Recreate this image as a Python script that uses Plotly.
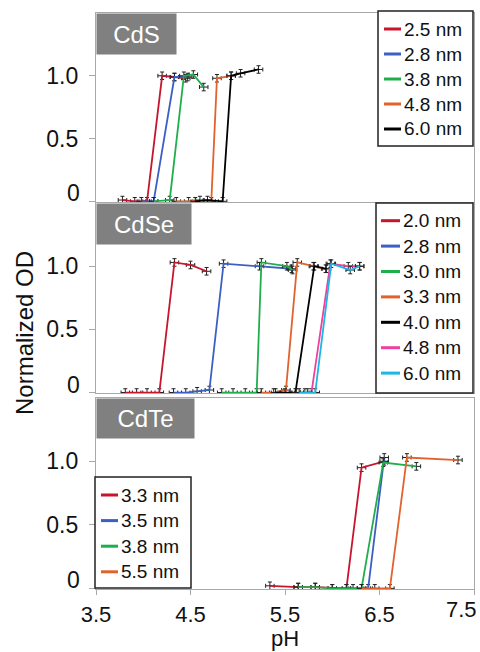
import plotly.graph_objects as go
from plotly.subplots import make_subplots

# ---------------- data ----------------
ph_ticks = [3.5, 4.5, 5.5, 6.5, 7.5]
ph_ticktext = ["3.5", "4.5", "5.5", "6.5", "7.5"]
od_ticks = [0, 0.5, 1.0]
od_ticktext = ["", "0.5", "1.0"]

panel_names = ["CdS", "CdSe", "CdTe"]

cds_labels = ["2.5 nm", "2.8 nm", "3.8 nm", "4.8 nm", "6.0 nm"]
cds_colors = ["#c8152e", "#3b5fc4", "#1fae4e", "#e2622c", "#000000"]
cds_ph = [
    [3.78, 3.91, 4.04, 4.20, 4.33, 4.45],
    [3.98, 4.11, 4.33, 4.47],
    [4.11, 4.28, 4.43, 4.53, 4.64],
    [4.35, 4.48, 4.60, 4.72, 4.78, 4.93],
    [4.55, 4.68, 4.84, 4.93, 5.03, 5.22],
]
cds_od = [
    [0.01, 0.0, 0.0, 1.0, 0.99, 0.98],
    [0.0, 0.0, 0.99, 0.99],
    [0.0, 0.01, 1.0, 1.01, 0.91],
    [0.0, 0.0, 0.01, 0.0, 0.98, 1.0],
    [0.0, 0.01, 0.0, 1.0, 1.02, 1.05],
]

cdse_labels = ["2.0 nm", "2.8 nm", "3.0 nm", "3.3 nm", "4.0 nm", "4.8 nm", "6.0 nm"]
cdse_colors = ["#c8152e", "#3b5fc4", "#1fae4e", "#e2622c", "#000000", "#f0409a", "#1ab6e6"]
cdse_ph = [
    [3.81, 3.93, 4.04, 4.17, 4.33, 4.50, 4.67],
    [4.32, 4.45, 4.57, 4.70, 4.85, 5.23, 5.57],
    [4.83, 4.95, 5.08, 5.20, 5.25, 5.52, 5.58],
    [5.25, 5.38, 5.51, 5.63, 5.80, 5.93],
    [5.40, 5.50, 5.61, 5.81, 5.94],
    [5.62, 5.71, 5.78, 5.98, 6.17, 6.29],
    [5.65, 5.74, 5.82, 5.99, 6.19, 6.29],
]
cdse_od = [
    [0.0, 0.0, 0.0, 0.0, 1.03, 1.01, 0.96],
    [0.0, 0.0, 0.01, 0.02, 1.02, 1.0, 0.98],
    [0.0, 0.0, 0.0, 0.0, 1.03, 1.0, 0.97],
    [0.0, 0.0, 0.02, 1.03, 1.0, 0.98],
    [0.0, 0.0, 0.0, 1.0, 0.98],
    [0.0, 0.0, 0.0, 1.02, 1.0, 1.0],
    [0.0, 0.0, 0.0, 1.02, 0.97, 1.0],
]

cdte_labels = ["3.3 nm", "3.5 nm", "3.8 nm", "5.5 nm"]
cdte_colors = ["#c8152e", "#3b5fc4", "#1fae4e", "#e2622c"]
cdte_ph = [
    [5.34, 5.64, 5.82, 6.15, 6.31, 6.55],
    [6.00, 6.22, 6.38, 6.55],
    [5.64, 5.82, 6.00, 6.15, 6.31, 6.54, 6.89],
    [6.31, 6.45, 6.61, 6.79, 7.33],
]
cdte_od = [
    [0.02, 0.01, 0.01, 0.0, 0.95, 1.0],
    [0.0, 0.0, 0.0, 1.03, 1.0],
    [0.01, 0.01, 0.0, 0.0, 0.0, 0.99, 0.96],
    [0.0, 0.0, 0.0, 1.03, 1.01],
]

ph_err = 0.045
od_err = 0.03

# ---------------- figure ----------------
FONT = "Liberation Sans, Arial, sans-serif"
W, H = 480, 652
ML, MR, MT, MB = 96, 6, 13, 63
PW, PH = W - ML - MR, H - MT - MB


def px_x(px):
    return (px - ML) / PW


def px_y(py):
    return (H - MB - py) / PH


fig = make_subplots(rows=3, cols=1, shared_xaxes=True, vertical_spacing=0.005)

panels = [
    (cds_labels, cds_colors, cds_ph, cds_od),
    (cdse_labels, cdse_colors, cdse_ph, cdse_od),
    (cdte_labels, cdte_colors, cdte_ph, cdte_od),
]
for r, (labels, colors, phs, ods) in enumerate(panels, start=1):
    for lab, col, xs, ys in zip(labels, colors, phs, ods):
        fig.add_trace(
            go.Scatter(
                x=xs, y=ys, mode="lines", name=lab, showlegend=False,
                line=dict(color=col, width=1.8),
                error_x=dict(type="constant", value=ph_err, color="#222222", thickness=1, width=2),
                error_y=dict(type="constant", value=od_err, color="#222222", thickness=1, width=2),
            ),
            row=r, col=1,
        )

domains = [[0.672, 1.0], [0.340, 0.670], [0.0, 0.332]]
axis_gray = "#a8a8a8"
tick_font = dict(family=FONT, size=22, color="#111111")
for r in range(1, 4):
    fig.update_yaxes(
        row=r, col=1, domain=domains[r - 1], range=[-0.005, 1.5],
        tickvals=od_ticks, ticktext=od_ticktext, ticks="outside", ticklen=6,
        tickcolor=axis_gray, showline=True, linecolor=axis_gray, linewidth=1.2,
        mirror=True, showgrid=False, zeroline=False, ticklabelstandoff=6,
        tickfont=dict(family=FONT, size=23, color="#111111"),
    )
    fig.update_xaxes(
        row=r, col=1, range=[3.5, 7.5], tickvals=ph_ticks,
        ticktext=[t if v < 7.5 else "" for v, t in zip(ph_ticks, ph_ticktext)],
        showline=True, linecolor=axis_gray, linewidth=1.2, mirror=True,
        showgrid=False, zeroline=False,
        ticks="outside" if r == 3 else "", ticklen=5, tickcolor=axis_gray,
        showticklabels=(r == 3),
        tickfont=tick_font,
    )
fig.update_xaxes(row=3, col=1, title=dict(text="pH", font=dict(family=FONT, size=22, color="#111111"), standoff=2))

# last x tick label, pulled in just enough to stay inside the picture
fig.add_annotation(
    xref="x3", yref="paper", x=ph_ticks[-1], y=0, xanchor="right", yanchor="top",
    xshift=5, yshift=-6, text=ph_ticktext[-1], showarrow=False, font=tick_font,
)

# "0" tick labels (sit a little above the axis line)
for yr in ["y", "y2", "y3"]:
    fig.add_annotation(
        xref="paper", yref=yr, x=0, y=0, xanchor="right", yanchor="middle",
        xshift=-14, yshift=8, text="0", showarrow=False,
        font=dict(family=FONT, size=23, color="#111111"),
    )

# panel name boxes
box_widths = [79, 94, 97]
box_heights = [40, 40, 39]
yrefs = ["y domain", "y2 domain", "y3 domain"]
xrefs = ["x domain", "x2 domain", "x3 domain"]
for i, name in enumerate(panel_names):
    fig.add_annotation(
        xref=xrefs[i], yref=yrefs[i], x=0, y=1, xanchor="left", yanchor="top",
        text=name, showarrow=False, bgcolor="#808080", width=box_widths[i] - 2,
        height=box_heights[i] - 2, borderpad=1, align="center",
        font=dict(family=FONT, size=24, color="white"),
    )

fig.add_annotation(
    xref="paper", yref="paper", x=px_x(24), y=px_y(333), text="Normalized OD", textangle=-90,
    showarrow=False, font=dict(family=FONT, size=24, color="#111111"),
    xanchor="center", yanchor="middle",
)

# legends (drawn as boxes with short colour keys)
legend_specs = [
    (cds_labels, cds_colors, (378, 473, 11, 146), 29, 25.0, 384, 401),
    (cdse_labels, cdse_colors, (376, 473, 203, 393), 220.7, 25.4, 381, 400),
    (cdte_labels, cdte_colors, (95, 191, 477, 588), 495, 25.6, 101, 118),
]
for labels, colors, (bx0, bx1, by0, by1), y0, step, kx0, kx1 in legend_specs:
    fig.add_shape(
        type="rect", xref="paper", yref="paper", layer="above",
        x0=px_x(bx0), x1=px_x(bx1), y0=px_y(by1), y1=px_y(by0),
        fillcolor="white", line=dict(color="#222222", width=1.5),
    )
    for j, (lab, col) in enumerate(zip(labels, colors)):
        yy = px_y(y0 + j * step)
        fig.add_shape(
            type="line", xref="paper", yref="paper", layer="above",
            x0=px_x(kx0), x1=px_x(kx1), y0=yy, y1=yy,
            line=dict(color=col, width=3),
        )
        fig.add_annotation(
            xref="paper", yref="paper", x=px_x(kx1 + 1), y=yy, xanchor="left",
            yanchor="middle", text=lab, showarrow=False,
            font=dict(family=FONT, size=19, color="#111111"),
        )

fig.update_layout(
    width=W, height=H,
    margin=dict(l=ML, r=MR, t=MT, b=MB),
    plot_bgcolor="white", paper_bgcolor="white",
    showlegend=False,
)

fig.write_html("out.html")
